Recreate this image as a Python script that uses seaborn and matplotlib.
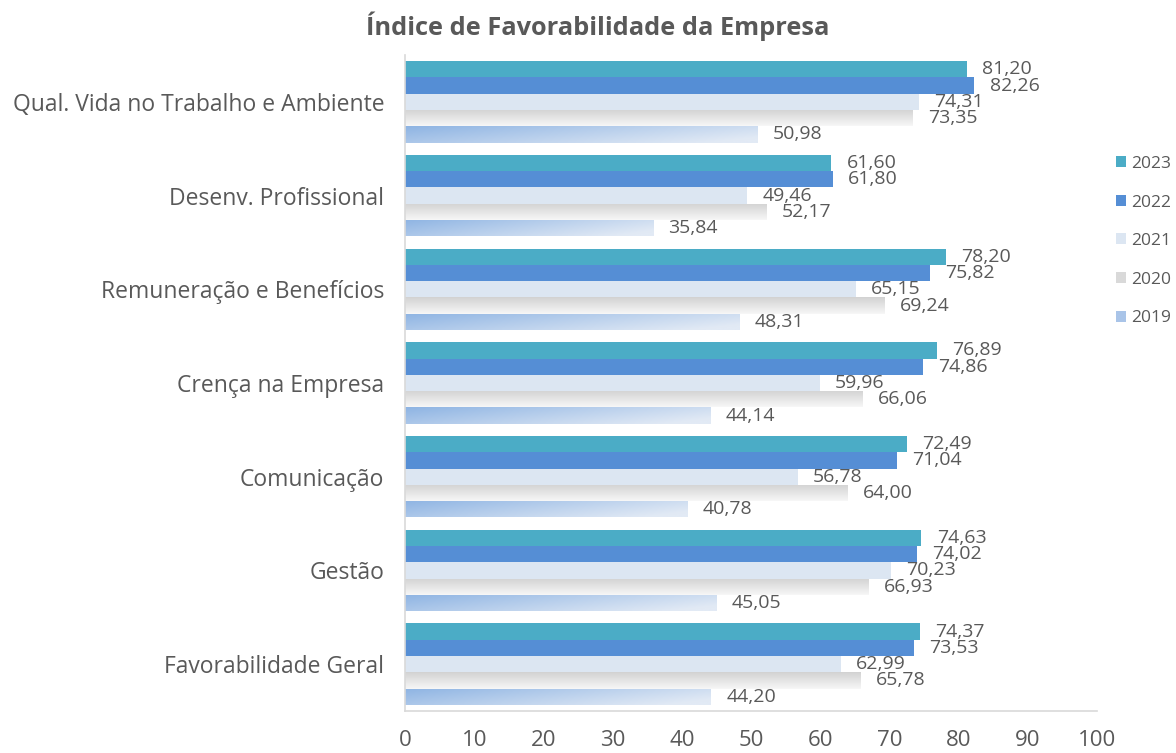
import numpy as np
import pandas as pd
import matplotlib
matplotlib.use("Agg")
import matplotlib.pyplot as plt
import matplotlib.colors as mcolors
import seaborn as sns

categories = ["Qual. Vida no Trabalho e Ambiente", "Desenv. Profissional",
              "Remuneração e Benefícios", "Crença na Empresa", "Comunicação",
              "Gestão", "Favorabilidade Geral"]
years = ["2023", "2022", "2021", "2020", "2019"]
v2023 = [81.20, 61.60, 78.20, 76.89, 72.49, 74.63, 74.37]
v2022 = [82.26, 61.80, 75.82, 74.86, 71.04, 74.02, 73.53]
v2021 = [74.31, 49.46, 65.15, 59.96, 56.78, 70.23, 62.99]
v2020 = [73.35, 52.17, 69.24, 66.06, 64.00, 66.93, 65.78]
v2019 = [50.98, 35.84, 48.31, 44.14, 40.78, 45.05, 44.20]
x_ticks = [0, 10, 20, 30, 40, 50, 60, 70, 80, 90, 100]

series = {"2023": v2023, "2022": v2022, "2021": v2021, "2020": v2020, "2019": v2019}
rows = []
for y in years:
    for c, v in zip(categories, series[y]):
        rows.append({"cat": c, "year": y, "value": v})
df = pd.DataFrame(rows)

palette = {"2023": "#4BACC6", "2022": "#558ED5", "2021": "#DCE6F2",
           "2020": "#D9D9D9", "2019": "#A9C4E8"}

sns.set_theme(style="white")
plt.rcParams["font.family"] = ["Open Sans", "DejaVu Sans"]
TXT = "#595959"

fig = plt.figure(figsize=(11.76, 7.53), dpi=100)
ax = fig.add_axes([405/1176, 1-711/753, (1097-405)/1176, (711-55)/753])

sns.barplot(data=df, y="cat", x="value", hue="year", hue_order=years,
            order=categories, orient="h", palette=palette, width=0.87,
            saturation=1, ax=ax, legend=True, linewidth=0, edgecolor="none")

ax.set_xlim(0, 100)
ax.set_ylim(6.5, -0.5)

# gradients for 2020 and 2019
def grad_img(c_top_left, c_other, kind):
    n = 64
    a = mcolors.to_rgb(c_top_left)
    b = mcolors.to_rgb(c_other)
    if kind == "v":
        t = np.linspace(0, 1, n)[:, None] * np.ones((1, 2))
    else:
        yy, xx = np.mgrid[0:1:n*1j, 0:1:n*1j]
        t = np.clip(0.75 * xx + 0.35 * yy, 0, 1)
    img = np.empty(t.shape + (3,))
    for k in range(3):
        img[..., k] = a[k] + (b[k] - a[k]) * t
    return img

containers = ax.containers
for yi, cont in zip(years, containers):
    for p in cont.patches:
        x0, y0 = p.get_x(), p.get_y()
        w, h = p.get_width(), p.get_height()
        if yi == "2020":
            img = grad_img("#D2D2D2", "#F7F7F7", "v")
        elif yi == "2019":
            img = grad_img("#8EB4E3", "#E2EAF5", "d")
        else:
            continue
        im = ax.imshow(img, extent=(x0, x0 + w, y0 + h, y0), aspect="auto",
                       zorder=p.get_zorder() + 0.1, interpolation="bilinear")
        im.set_clip_path(p)
    for p, v in zip(cont.patches, series[yi]):
        ax.annotate(f"{v:.2f}".replace(".", ","),
                    xy=(p.get_x() + p.get_width(), p.get_y() + p.get_height() / 2),
                    xytext=(11, 0), textcoords="offset points",
                    ha="left", va="center", fontsize=14, color=TXT)

ax.set_xlim(0, 100)
ax.set_ylim(6.5, -0.5)
ax.set_xticks(x_ticks)
ax.set_xticklabels([str(t) for t in x_ticks], fontsize=16, color=TXT)
ax.tick_params(axis="x", length=0, pad=14)
ax.tick_params(axis="y", length=0, pad=15, labelsize=16.5, labelcolor=TXT)
ax.set_xlabel("")
ax.set_ylabel("")
for s in ["top", "right"]:
    ax.spines[s].set_visible(False)
for s in ["left", "bottom"]:
    ax.spines[s].set_color("#D9D9D9")
    ax.spines[s].set_linewidth(1.2)

handles, labels = ax.get_legend_handles_labels()
ax.get_legend().remove()
fig.legend(handles, labels, loc="upper left", bbox_to_anchor=(1109/1176, 1-149/753),
           frameon=False, fontsize=12.5, handlelength=0.6, handleheight=0.6,
           handletextpad=0.3, labelspacing=1.3, labelcolor=TXT, borderaxespad=0)

fig.text(598/1176, 1-26/753, "Índice de Favorabilidade da Empresa",
         ha="center", va="center", fontsize=18.3, fontweight="bold", color=TXT)

fig.savefig("out.png", dpi=100)
